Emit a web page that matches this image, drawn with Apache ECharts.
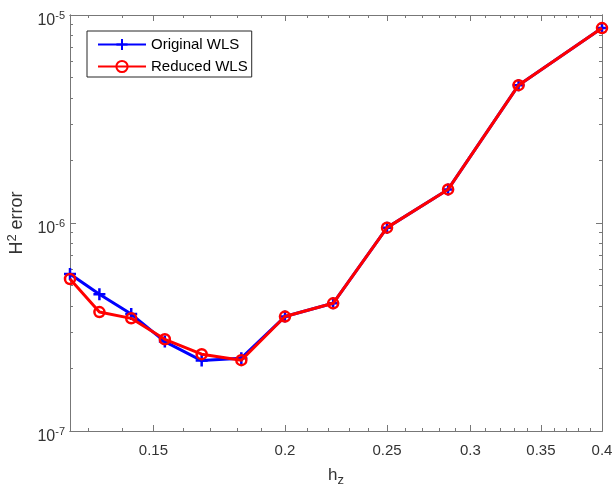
<!DOCTYPE html>
<html>
<head>
<meta charset="utf-8">
<script src="https://cdn.jsdelivr.net/npm/echarts@6/dist/echarts.min.js"></script>
<style>
  html, body { margin: 0; padding: 0; background: #fff; }
  #chart { width: 612px; height: 490px; }
</style>
</head>
<body>
<div id="chart"></div>
<script>
// h_z values (log axis) and the two error series
const hValues = [0.125, 0.1333, 0.1429, 0.1538, 0.1667, 0.1818, 0.2, 0.2222, 0.25, 0.2857, 0.3333, 0.4]
const originalWLS = [5.69e-7, 4.54e-7, 3.65e-7, 2.69e-7, 2.18e-7, 2.24e-7, 3.55e-7, 4.11e-7, 9.5e-7, 1.45e-6, 4.6e-6, 8.65e-6]
const reducedWLS = [5.38e-7, 3.73e-7, 3.48e-7, 2.76e-7, 2.34e-7, 2.19e-7, 3.55e-7, 4.11e-7, 9.5e-7, 1.45e-6, 4.6e-6, 8.65e-6]

// tick labels / positions
const xTicks = [0.15, 0.2, 0.25, 0.3, 0.35, 0.4]
const xMinorTicks = [0.13, 0.14, 0.16, 0.17, 0.18, 0.19, 0.21, 0.22, 0.23, 0.24, 0.26, 0.27, 0.28, 0.29,
  0.31, 0.32, 0.33, 0.34, 0.36, 0.37, 0.38, 0.39]
const yTicks = [1e-7, 1e-6, 1e-5]
const yMinorTicks = [2e-7, 3e-7, 4e-7, 5e-7, 6e-7, 7e-7, 8e-7, 9e-7, 2e-6, 3e-6, 4e-6, 5e-6, 6e-6, 7e-6, 8e-6, 9e-6]
const xRange = [0.125, 0.4]
const yRange = [1e-7, 1e-5]

const lg = v => Math.log10(v)
const font = 'Liberation Sans, Arial, Helvetica, sans-serif'
const axisColor = '#777'
const textColor = '#333'

// one axis config: major or minor ticks, bottom/top or left/right
function makeX (position, ticks, len, withLabels) {
  return {
    type: 'value',
    position: position,
    min: lg(xRange[0]),
    max: lg(xRange[1]),
    splitLine: { show: false },
    axisLine: { show: true, onZero: false, lineStyle: { color: axisColor, width: 1 } },
    axisTick: { show: true, inside: true, length: len, customValues: ticks.map(lg), lineStyle: { color: axisColor } },
    axisLabel: withLabels ? {
      show: true,
      customValues: ticks.map(lg),
      margin: 12,
      color: textColor,
      fontSize: 15,
      fontFamily: font,
      formatter: v => String(+Math.pow(10, v).toFixed(2))
    } : { show: false }
  }
}

function makeY (position, ticks, len, withLabels) {
  return {
    type: 'value',
    position: position,
    min: lg(yRange[0]),
    max: lg(yRange[1]),
    splitLine: { show: false },
    axisLine: { show: true, onZero: false, lineStyle: { color: axisColor, width: 1 } },
    axisTick: { show: true, inside: true, length: len, customValues: ticks.map(lg), lineStyle: { color: axisColor } },
    axisLabel: withLabels ? {
      show: true,
      customValues: ticks.map(lg),
      margin: 5,
      padding: [12, 0, 0, 0],
      color: textColor,
      fontSize: 16,
      fontFamily: font,
      formatter: v => '10{sup|' + Math.round(v) + '}',
      rich: {
        sup: { fontSize: 11, fontFamily: font, color: textColor, verticalAlign: 'bottom', padding: [0, 0, 11, 0] }
      }
    } : { show: false }
  }
}

const xMain = makeX('bottom', xTicks, 6, true)
xMain.name = 'h{sub|z}'
xMain.nameLocation = 'middle'
xMain.nameGap = 32
xMain.nameTextStyle = {
  color: textColor,
  fontSize: 17,
  fontFamily: font,
  rich: { sub: { fontSize: 13, fontFamily: font, color: textColor, padding: [11, 0, 0, 0] } }
}

const yMain = makeY('left', yTicks, 6, true)
yMain.name = 'H{sup|2} error'
yMain.nameLocation = 'middle'
yMain.nameGap = 40
yMain.nameTextStyle = {
  color: textColor,
  fontSize: 18,
  fontFamily: font,
  rich: { sup: { fontSize: 13, fontFamily: font, color: textColor, padding: [0, 0, 11, 0] } }
}

const chart = echarts.init(document.getElementById('chart'))

chart.setOption({
  animation: false,
  backgroundColor: '#fff',
  grid: { left: 70, top: 15, right: 10, bottom: 59, containLabel: false, outerBoundsMode: 'none' },
  legend: {
    left: 87,
    top: 31,
    orient: 'vertical',
    itemWidth: 48,
    itemHeight: 14,
    itemGap: 7,
    padding: [6, 4, 3, 10],
    borderColor: '#262626',
    borderWidth: 1,
    backgroundColor: '#fff',
    textStyle: { color: '#000', fontSize: 15, fontFamily: font },
    data: ['Original WLS', 'Reduced WLS']
  },
  xAxis: [
    xMain,
    makeX('bottom', xMinorTicks, 3, false),
    makeX('top', xTicks, 6, false),
    makeX('top', xMinorTicks, 3, false)
  ],
  yAxis: [
    yMain,
    makeY('left', yMinorTicks, 3, false),
    makeY('right', yTicks, 6, false),
    makeY('right', yMinorTicks, 3, false)
  ],
  series: [
    {
      name: 'Original WLS',
      type: 'line',
      xAxisIndex: 0,
      yAxisIndex: 0,
      data: hValues.map((h, i) => [lg(h), lg(originalWLS[i])]),
      symbol: 'path://M0,6L12,6M6,0L6,12',
      symbolSize: 12,
      lineStyle: { color: '#0000ff', width: 3 },
      itemStyle: { color: '#0000ff', borderColor: '#0000ff', borderWidth: 2.5 },
      z: 2
    },
    {
      name: 'Reduced WLS',
      type: 'line',
      xAxisIndex: 0,
      yAxisIndex: 0,
      data: hValues.map((h, i) => [lg(h), lg(reducedWLS[i])]),
      symbol: 'circle',
      symbolSize: 10,
      lineStyle: { color: '#ff0000', width: 3 },
      itemStyle: { color: 'rgba(255,255,255,0)', borderColor: '#ff0000', borderWidth: 2.5 },
      z: 3
    }
  ]
})
</script>
</body>
</html>
